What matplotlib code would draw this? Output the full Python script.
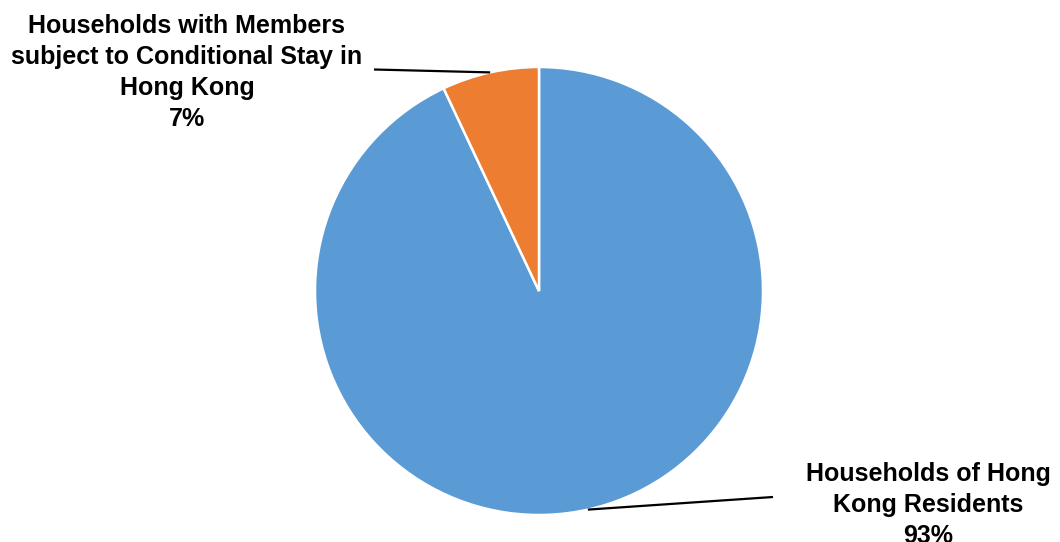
import numpy as np
import matplotlib.pyplot as plt

categories = ["Households of Hong\nKong Residents",
              "Households with Members\nsubject to Conditional Stay in\nHong Kong"]
shares = [93, 7]
colors = ["#5B9BD5", "#ED7D31"]

W, H = 1060, 542
fig = plt.figure(figsize=(W / 100, H / 100), dpi=100)
ax = fig.add_axes([0, 0, 1, 1])

cx, cy, r = 539, H - 291, 224
wedges, _ = ax.pie(shares, colors=colors, startangle=90, counterclock=False,
                   center=(cx, cy), radius=r, frame=True,
                   wedgeprops=dict(edgecolor="white", linewidth=1.8))
ax.set_xlim(0, W)
ax.set_ylim(0, H)
ax.axis("off")

# label text anchors (top centre) and leader line ends
label_pos = [(928, H - 462), (187, H - 14)]
leader_end = [(773, H - 497), (374, H - 69.5)]

for w, cat, val, (tx, ty), (lx, ly) in zip(wedges, categories, shares, label_pos, leader_end):
    mid = np.deg2rad((w.theta1 + w.theta2) / 2)
    sx, sy = cx + r * np.cos(mid), cy + r * np.sin(mid)
    ax.plot([sx, lx], [sy, ly], color="black", lw=1.6, solid_capstyle="butt")
    ax.text(tx, ty, f"{cat}\n{val}%", ha="center", va="top", fontsize=18,
            fontweight="bold", family="Liberation Sans", linespacing=1.36)

fig.savefig("out.png", dpi=100)
